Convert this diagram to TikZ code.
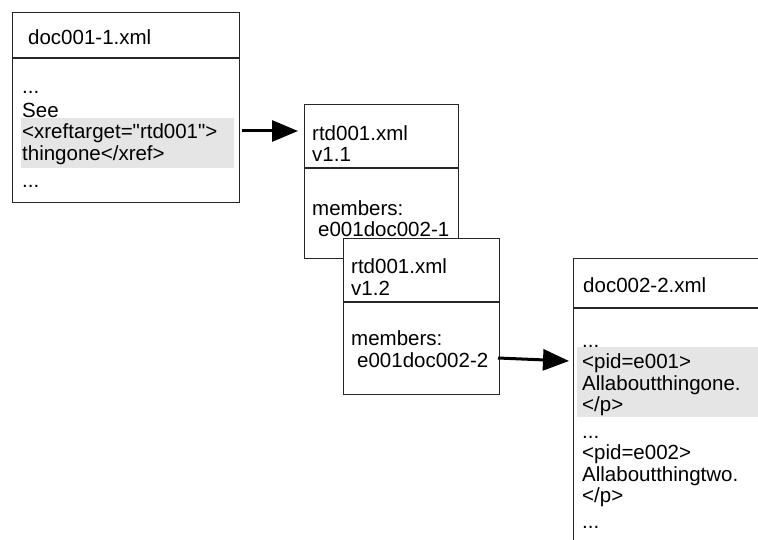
\documentclass[tikz,border=0pt]{standalone}
\usepackage{fontspec}
\setmainfont{Liberation Sans}[Ligatures=TeXOff]
\usetikzlibrary{arrows.meta}
\tikzset{
  filebox/.style={draw=black!85, line width=1pt, fill=white, anchor=north west, inner sep=0pt},
  hilite/.style={fill=black!10, draw=none, anchor=north west, inner sep=0pt},
  txt/.style={anchor=base west, inner sep=0pt, align=left, font=\fontsize{20.5}{21.5}\selectfont},
  link/.style={line width=3pt, -{Triangle[length=26pt,width=21pt]}}
}
\begin{document}
\begin{tikzpicture}[x=1pt,y=-1pt]
\useasboundingbox (0,0) rectangle (758,540);
\clip (0,0) rectangle (758,540);
% doc001-1.xml (text nodes sit on their last baseline)
\node[filebox, minimum width=227, minimum height=45] (doc1head) at (12,12) {};
\node[filebox, minimum width=227, minimum height=144] (doc1body) at (doc1head.south west) {};
\node[hilite, minimum width=213, minimum height=50] (xrefhl) at (21,118) {};
\node[txt] (doc1title) at (28,45) {doc001-1.xml};
\node[txt] (doc1text) at (22,188) {...\\[2pt]See\\<xreftarget="rtd001">\\thingone</xref>\\[6pt]...};
% rtd001.xml v1.1
\node[filebox, minimum width=154, minimum height=63] (rtd1head) at (304,104) {};
\node[filebox, minimum width=154, minimum height=90] (rtd1body) at (rtd1head.south west) {};
\node[txt] (rtd1title) at (312,162) {rtd001.xml\\v1.1};
\node[txt] (rtd1text) at (312,237) {members:\\\hspace*{6pt}e001doc002-1};
% rtd001.xml v1.2
\node[filebox, minimum width=156, minimum height=63] (rtd2head) at (343,238) {};
\node[filebox, minimum width=156, minimum height=92] (rtd2body) at (rtd2head.south west) {};
\node[txt] (rtd2title) at (351,295) {rtd001.xml\\v1.2};
\node[txt] (rtd2text) at (351,367) {members:\\\hspace*{6pt}e001doc002-2};
% doc002-2.xml
\node[filebox, minimum width=200, minimum height=49] (doc2head) at (573,258) {};
\node[filebox, minimum width=200, minimum height=260] (doc2body) at (doc2head.south west) {};
\node[hilite, minimum width=190, minimum height=70] (pidhl) at (577,347) {};
\node[txt] (doc2title) at (583,293) {doc002-2.xml};
\node[txt] (doc2text) at (582,528) {...\\<pid=e001>\\Allaboutthingone.\\</p>\\[5pt]...\\<pid=e002>\\Allaboutthingtwo.\\</p>\\[4pt]...};
% arrows
\coordinate (xrefout) at (242,131);
\coordinate (rtdin) at (298,131);
\coordinate (memout) at (498,358);
\coordinate (pidin) at (569,361);
\draw[link] (xrefout) -- (rtdin);
\draw[link] (memout) -- (pidin);
\end{tikzpicture}
\end{document}
